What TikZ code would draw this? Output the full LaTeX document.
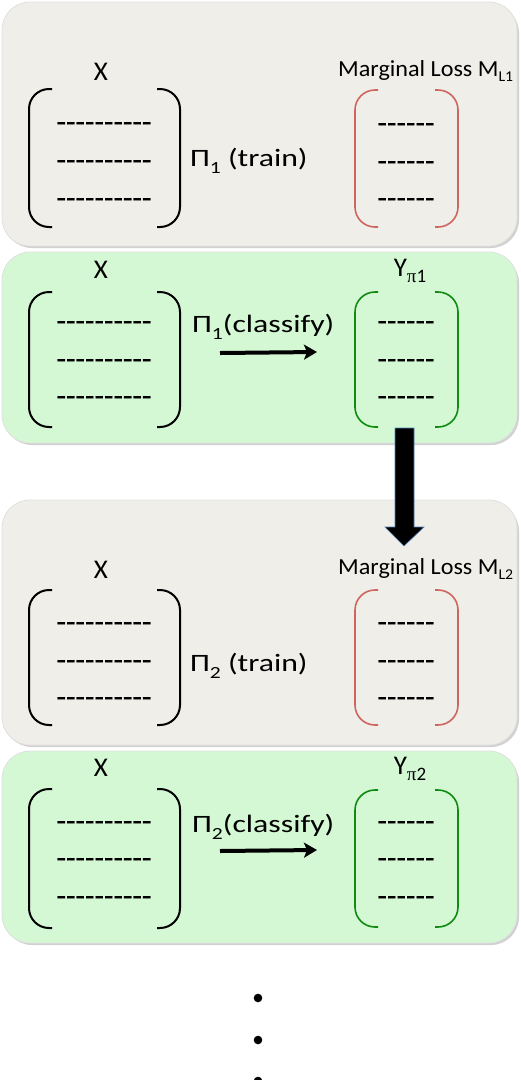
\documentclass[tikz,border=0pt]{standalone}
\usepackage{fontspec}
\setmainfont{Carlito}
\newfontfamily\grserif{Liberation Serif}
\newfontfamily\dashfont{Carlito}[Ligatures=TeXOff, FakeBold=0.6]
\usetikzlibrary{arrows.meta}
\definecolor{panelgray}{HTML}{EFEEE8}
\definecolor{panelgreen}{HTML}{D4F8D4}
\definecolor{lossred}{HTML}{CD6660}
\definecolor{outgreen}{HTML}{108A10}
\definecolor{edgeblue}{HTML}{4F81BD}
\newcommand{\pilowsub}[1]{\raisebox{-7pt}{\fontsize{17}{17}\selectfont #1}}
\newcommand{\mlowsub}[1]{\raisebox{-5pt}{\fontsize{15}{15}\selectfont #1}}
\newcommand{\pisub}[1]{\raisebox{-6pt}{\fontsize{19}{19}\selectfont{\grserif π}#1}}
\tikzset{
  panelgray/.style={fill=panelgray, draw=black!12, line width=0.8pt, rounded corners=28pt},
  panelgreen/.style={fill=panelgreen, draw=black!12, line width=0.8pt, rounded corners=28pt},
  lbl/.style={inner sep=0pt, font=\fontsize{27}{30}\selectfont},
  pilbl/.style={inner sep=0pt, anchor=base west, font=\fontsize{25}{28}\selectfont},
  losslbl/.style={inner sep=0pt, anchor=base west, font=\fontsize{23}{26}\selectfont},
  dashrow/.style={inner sep=0pt, anchor=base, font=\dashfont\fontsize{31}{31}\selectfont},
  brk/.style={line width=2pt, rounded corners=20pt},
  smallarrow/.style={line width=4pt, -{Stealth[length=13pt,width=15pt,inset=3pt]}},
}
\begin{document}
\begin{tikzpicture}[x=1pt,y=-1pt]
\useasboundingbox (0,0) rectangle (520,1080);

% ---------- panels ----------
\fill[black!18, rounded corners=28pt] (4,5) rectangle (519,248);
\path[panelgray] (2,2) rectangle (517,246);
\fill[black!18, rounded corners=28pt] (4,255) rectangle (519,445);
\path[panelgreen] (2,252) rectangle (517,443);
\fill[black!18, rounded corners=28pt] (4,503) rectangle (519,747);
\path[panelgray] (2,500) rectangle (517,745);
\fill[black!18, rounded corners=28pt] (4,754) rectangle (519,945);
\path[panelgreen] (2,751) rectangle (517,943);

% panel 1
\node[lbl] (x1) at (101,72) {X};
\draw[brk] (52,89) -| (29,158) |- (52,227);
\draw[brk] (157,89) -| (180,158) |- (157,227);
\node[dashrow] (d1a) at (104,132) {----------};
\node[dashrow] (d1b) at (104,170) {----------};
\node[dashrow] (d1c) at (104,208) {----------};
\node[pilbl] (p1) at (190,166) {\scalebox{1.27}[1]{Π\pilowsub{1} (train)}};
\node[losslbl] (m1) at (338,76) {\scalebox{1.05}[1]{Marginal Loss M\mlowsub{L1}}};
\draw[brk, lossred, line width=1.6pt] (378,90) -| (355,158) |- (378,227);
\draw[brk, lossred, line width=1.6pt] (435,90) -| (458,158) |- (435,227);
\node[dashrow] (r1a) at (406,133) {------};
\node[dashrow] (r1b) at (406,171) {------};
\node[dashrow] (r1c) at (406,208) {------};

% panel 2
\node[lbl] (x2) at (101,270) {X};
\draw[brk] (52,292) -| (29,360) |- (52,427);
\draw[brk] (157,292) -| (180,360) |- (157,427);
\node[dashrow] (d2a) at (104,331) {----------};
\node[dashrow] (d2b) at (104,369) {----------};
\node[dashrow] (d2c) at (104,406) {----------};
\node[pilbl] (p2) at (192,332) {\scalebox{1.27}[1]{Π\pilowsub{1}(classify)}};
\coordinate (a2s) at (220,353);
\coordinate (a2e) at (317,352);
\draw[smallarrow] (a2s) -- (a2e);
\node[lbl] (y1) at (410,271) {Y\pisub{1}};
\draw[brk, outgreen, line width=1.6pt] (378,292) -| (355,360) |- (378,427);
\draw[brk, outgreen, line width=1.6pt] (435,292) -| (458,360) |- (435,427);
\node[dashrow] (g1a) at (406,331) {------};
\node[dashrow] (g1b) at (406,369) {------};
\node[dashrow] (g1c) at (406,406) {------};

% big arrow
\draw[fill=black, draw=edgeblue, line width=0.6pt]
  (395,428) -- (414,428) -- (414,527) -- (424,527) -- (404,546) -- (385,527) -- (395,527) -- cycle;

% panel 3
\node[lbl] (x3) at (101,570) {X};
\draw[brk] (52,590) -| (29,658) |- (52,725);
\draw[brk] (157,590) -| (180,658) |- (157,725);
\node[dashrow] (d3a) at (104,632) {----------};
\node[dashrow] (d3b) at (104,670) {----------};
\node[dashrow] (d3c) at (104,707) {----------};
\node[pilbl] (p3) at (190,671) {\scalebox{1.27}[1]{Π\pilowsub{2} (train)}};
\node[losslbl] (m2) at (338,574) {\scalebox{1.05}[1]{Marginal Loss M\mlowsub{L2}}};
\draw[brk, lossred, line width=1.6pt] (378,590) -| (355,658) |- (378,725);
\draw[brk, lossred, line width=1.6pt] (435,590) -| (458,658) |- (435,725);
\node[dashrow] (r2a) at (406,632) {------};
\node[dashrow] (r2b) at (406,670) {------};
\node[dashrow] (r2c) at (406,707) {------};

% panel 4
\node[lbl] (x4) at (101,768) {X};
\draw[brk] (52,789) -| (29,858) |- (52,928);
\draw[brk] (157,789) -| (180,858) |- (157,928);
\node[dashrow] (d4a) at (104,831) {----------};
\node[dashrow] (d4b) at (104,868) {----------};
\node[dashrow] (d4c) at (104,906) {----------};
\node[pilbl] (p4) at (192,832) {\scalebox{1.27}[1]{Π\pilowsub{2}(classify)}};
\coordinate (a4s) at (220,851);
\coordinate (a4e) at (317,850);
\draw[smallarrow] (a4s) -- (a4e);
\node[lbl] (y2) at (410,769) {Y\pisub{2}};
\draw[brk, outgreen, line width=1.6pt] (378,790) -| (355,858) |- (378,927);
\draw[brk, outgreen, line width=1.6pt] (435,790) -| (458,858) |- (435,927);
\node[dashrow] (g2a) at (406,831) {------};
\node[dashrow] (g2b) at (406,868) {------};
\node[dashrow] (g2c) at (406,906) {------};

% dots
\fill (258,998) circle (4.3pt);
\fill (258,1040) circle (4.3pt);
\fill (258,1081) circle (4.3pt);
\end{tikzpicture}
\end{document}
